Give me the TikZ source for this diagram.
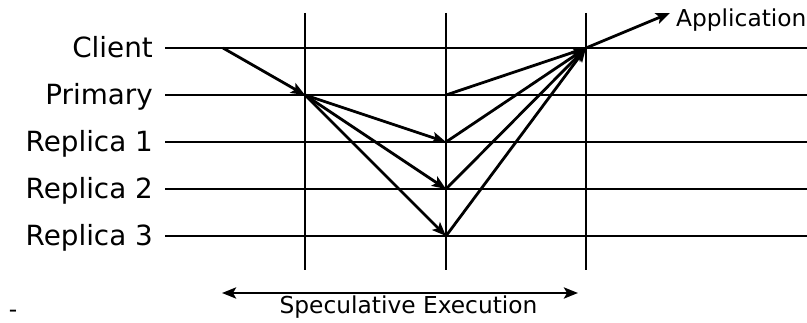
\documentclass[tikz,border=0pt]{standalone}
\usepackage{fontspec}
\setmainfont{DejaVu Sans}
\usetikzlibrary{arrows.meta}
\begin{document}
\begin{tikzpicture}[x=1pt,y=-1pt,
  line/.style={line width=2.8pt},
  tip/.tip={Stealth[length=14pt,width=11pt,inset=3pt]},
  msg/.style={line width=2.8pt,-tip},
  lbl/.style={anchor=base east,inner sep=0pt,font=\fontsize{27.8}{31}\selectfont},
  txt/.style={inner sep=0pt,font=\fontsize{23.3}{27}\selectfont}]
\useasboundingbox (0,0) rectangle (807,323);
% horizontal timelines
\foreach \n/\y/\t in {cl/48/Client,pr/95/Primary,ra/142/Replica 1,rb/189/Replica 2,rc/236/Replica 3}{
  \node[lbl] (\n lab) at (153,\y+10) {\t};
  \coordinate (\n s) at (165,\y);
  \coordinate (\n e) at (807,\y);
  \draw[line] (\n s) -- (\n e);
}
% vertical lines
\foreach \n/\x in {va/305,vb/446,vc/586}{
  \coordinate (\n t) at (\x,13);
  \coordinate (\n b) at (\x,270);
  \draw[line] (\n t) -- (\n b);
}
% message points
\coordinate (c0) at (223,48);
\coordinate (p1) at (305,95);
\coordinate (p2) at (446,95);
\coordinate (r1) at (446,142);
\coordinate (r2) at (446,189);
\coordinate (r3) at (446,236);
\coordinate (c1) at (586,48);
\coordinate (ap) at (670,13);
\draw[msg] (c0) -- (p1);
\draw[msg] (p1) -- (r1);
\draw[msg] (p1) -- (r2);
\draw[msg] (p1) -- (r3);
\draw[msg] (p2) -- (c1);
\draw[msg] (r1) -- (c1);
\draw[msg] (r2) -- (c1);
\draw[msg] (r3) -- (c1);
\draw[msg] (c1) -- (ap);
\node[txt,anchor=base west] (app) at (676,27) {Application};
% speculative execution span
\coordinate (sl) at (222,293);
\coordinate (sr) at (578,293);
\draw[line,tip-tip] (sl) -- (sr);
\node[txt,anchor=base] (spec) at (408.5,314) {Speculative Execution};
\node[txt,anchor=base] (dash) at (13,318) {-};
\end{tikzpicture}
\end{document}
